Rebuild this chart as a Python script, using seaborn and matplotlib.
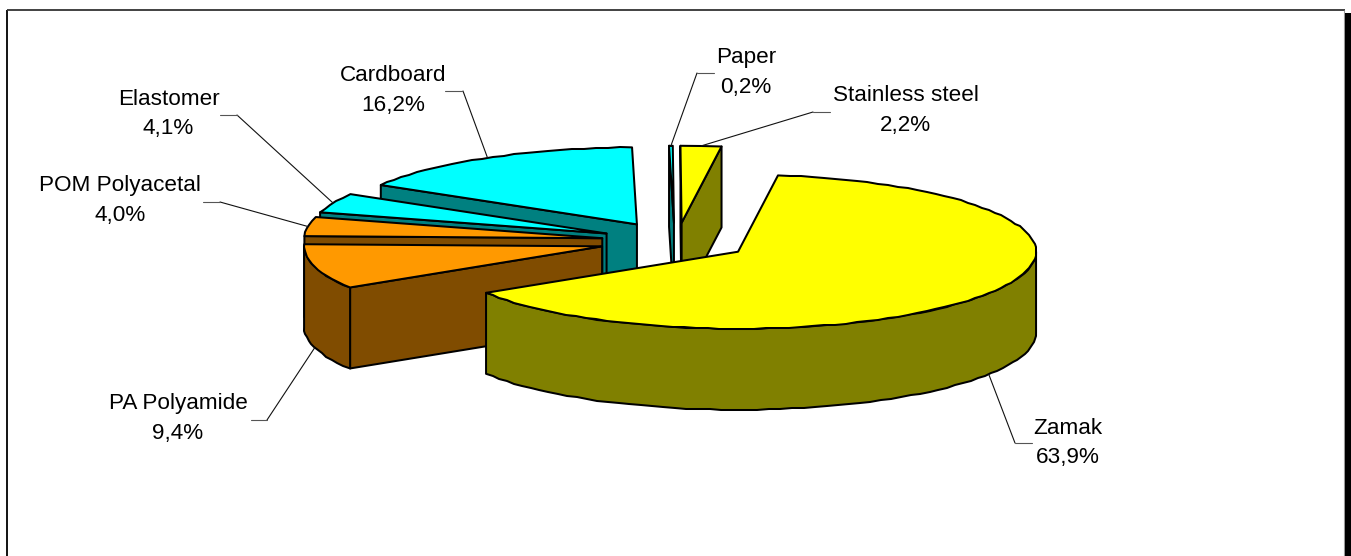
import numpy as np
import matplotlib.pyplot as plt
from matplotlib.patches import Polygon
import seaborn as sns

# --- DATA ---
MATERIALS = ['Zamak', 'PA Polyamide', 'POM Polyacetal', 'Elastomer', 'Cardboard', 'Paper', 'Stainless steel']
SHARES = [63.9, 9.4, 4.0, 4.1, 16.2, 0.2, 2.2]
LABEL_TEXT = ['63,9%', '9,4%', '4,0%', '4,1%', '16,2%', '0,2%', '2,2%']
TOP_COLORS = ['#FFFF00', '#FF9900', '#FF9900', '#00FFFF', '#00FFFF', '#00FFFF', '#FFFF00']
SIDE_COLORS = ['#808000', '#804C00', '#804C00', '#008080', '#008080', '#008080', '#808000']

# --- LAYOUT (pixels of the 1351x556 picture) ---
CENTER = (674.7, 241.2)
RX, RY = 298, 77
DEPTH = 81
EXPLODE = 75.3
START_DEG = 7.7
NUDGE = [(0, 0), (0, 0), (2, 0), (1, 0), (0, 0), (0, 1), (2, 1)]
LABEL_POS = [(1068, 443), (178, 418.5), (120, 200.5), (168.5, 114), (393, 90.5), (746, 72.5), (905.5, 110.5)]
ELBOWS = [(1015, 443), (267, 420), (220, 202), (237, 115), (463, 91), (697, 73), (813, 112)]
TAILS = [1032, 251, 203, 220, 445, 714, 830]
EDGE = dict(edgecolor='black', linewidth=1.45, joinstyle='round')

sns.set_theme(style='white')
plt.rcParams['font.family'] = ['Liberation Sans', 'DejaVu Sans']

fig = plt.figure(figsize=(13.51, 5.56), dpi=100)
ax = fig.add_axes([0, 0, 1, 1])
ax.set_xlim(0, 1351)
ax.set_ylim(556, 0)
ax.axis('off')


def rim(apex, deg):
    # point on the ellipse, angles run clockwise from 12 o'clock
    t = np.radians(deg)
    return np.column_stack([apex[0] + RX * np.sin(t), apex[1] - RY * np.cos(t)])


def rough_arc(apex, lo, hi):
    # coarse steps and whole pixels, the source has a slightly bumpy outline
    n = max(3, int((hi - lo) * 0.45))
    arc = rim(apex, np.linspace(lo, hi, n))
    arc[1:-1] = np.round(arc[1:-1])
    return arc


def draw_slice(start, end, top, side, z, nudge):
    mid = np.radians((start + end) / 2)
    apex = (CENTER[0] + nudge[0] + EXPLODE * np.sin(mid),
            CENTER[1] + nudge[1] - EXPLODE * RY / RX * np.cos(mid))
    apex_pt = np.array([apex])
    down = np.array([0, DEPTH])
    # cut faces, only the ones turned towards the viewer
    if np.sin(np.radians(start)) < 0:
        a = rim(apex, start)
        ax.add_patch(Polygon(np.vstack([apex_pt, a, a + down, apex_pt + down]), facecolor=side, zorder=z, **EDGE))
    if np.sin(np.radians(end)) > 0:
        a = rim(apex, end)
        ax.add_patch(Polygon(np.vstack([apex_pt, a, a + down, apex_pt + down]), facecolor=side, zorder=z, **EDGE))
    # outer wall, front half of the ellipse only
    lo, hi = max(start, 90), min(end, 270)
    if lo < hi:
        arc = rough_arc(apex, lo, hi)
        ax.add_patch(Polygon(np.vstack([arc, (arc + down)[::-1]]), facecolor=side, zorder=z, **EDGE))
    # top face
    arc = rough_arc(apex, start, end)
    ax.add_patch(Polygon(np.vstack([apex_pt, arc]), facecolor=top, zorder=z + 0.5, **EDGE))
    return apex


# slice angles from the shares
spans = np.array(SHARES) / sum(SHARES) * 360
starts = START_DEG + np.concatenate([[0], np.cumsum(spans)[:-1]])
ends = starts + spans

# back to front: stainless steel, paper, cardboard, elastomer, POM, PA, zamak
for i in [6, 5, 4, 3, 2, 1, 0]:
    apex = draw_slice(starts[i], ends[i], TOP_COLORS[i], SIDE_COLORS[i], 10 - i, NUDGE[i])
    mid = (starts[i] + ends[i]) / 2
    anchor = rim(apex, mid)[0]
    if 90 < mid % 360 < 270:
        anchor = anchor + [0, DEPTH]
    ex, ey = ELBOWS[i]
    ax.plot([anchor[0], ex], [anchor[1], ey], color='#111111', lw=0.8, zorder=20)
    ax.plot([ex, TAILS[i]], [ey, ey], color='#555555', lw=0.8, zorder=20)
    tx, ty = LABEL_POS[i]
    ax.text(tx, ty, MATERIALS[i] + '\n' + LABEL_TEXT[i], ha='center', va='center',
            fontsize=16.2, color='black', linespacing=1.55, zorder=30)

# chart frame: open at the bottom, black shadow on the right
ax.plot([7, 7], [556, 10], color='black', lw=1.3, solid_capstyle='butt', zorder=40)
ax.plot([6.5, 1344.5], [10, 10], color='#333333', lw=1.3, solid_capstyle='butt', zorder=40)
ax.plot([1344, 1344], [10, 556], color='#999999', lw=0.8, solid_capstyle='butt', zorder=40)
ax.fill_betweenx([13, 556], 1345, 1351, color='black', lw=0, zorder=40)

fig.savefig('out.png', dpi=100, facecolor='white')
